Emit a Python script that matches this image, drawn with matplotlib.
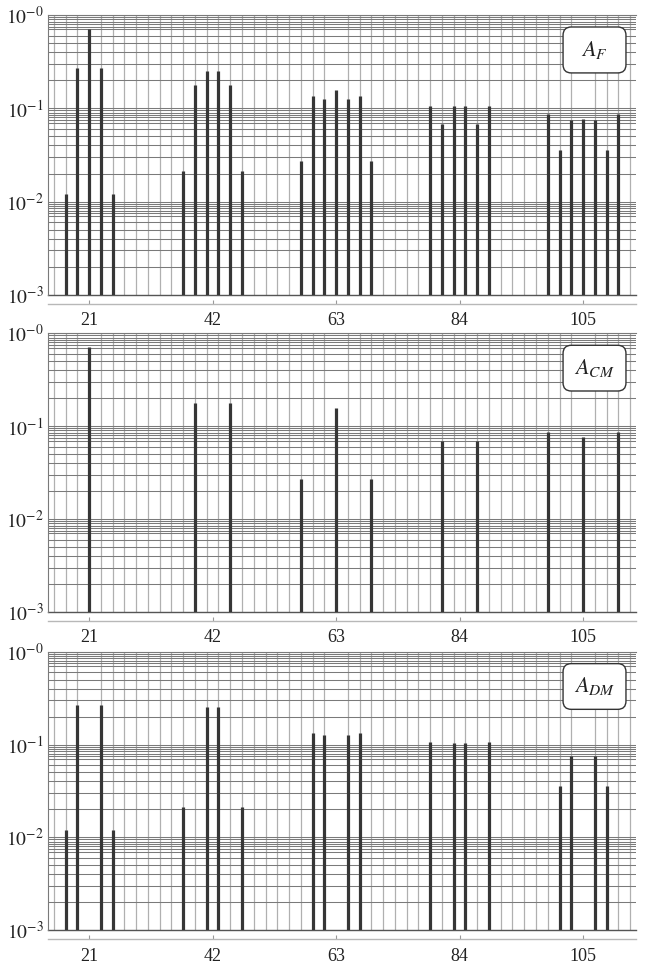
import numpy as np
import matplotlib
matplotlib.use("Agg")
import matplotlib.pyplot as plt
from matplotlib.patches import FancyBboxPatch
from matplotlib.ticker import FixedLocator, LogLocator, NullFormatter

plt.rcParams['font.family'] = ['Liberation Serif', 'DejaVu Serif']
plt.rcParams['mathtext.fontset'] = 'stix'

# rangs harmoniques et amplitudes
af_orders = [17, 19, 21, 23, 25, 37, 39, 41, 43, 45, 47, 57, 59, 61, 63, 65, 67, 69,
             79, 81, 83, 85, 87, 89, 99, 101, 103, 105, 107, 109, 111]
af_values = [0.012, 0.268, 0.70, 0.268, 0.012,
             0.0214, 0.177, 0.253, 0.253, 0.177, 0.0214,
             0.0274, 0.134, 0.127, 0.157, 0.127, 0.134, 0.0274,
             0.107, 0.0683, 0.1057, 0.1057, 0.0683, 0.107,
             0.0867, 0.0356, 0.0754, 0.0766, 0.0754, 0.0356, 0.0867]

cm_orders = [21, 39, 45, 57, 63, 69, 81, 87, 99, 105, 111]
cm_values = [0.707, 0.176, 0.176, 0.027, 0.156, 0.027, 0.0688, 0.0688, 0.0867, 0.076, 0.0867]

dm_orders = [17, 19, 23, 25, 37, 41, 43, 47, 59, 61, 65, 67, 79, 83, 85, 89, 101, 103, 107, 109]
dm_values = [0.0119, 0.269, 0.269, 0.0119, 0.0213, 0.2537, 0.2537, 0.0213,
             0.134, 0.127, 0.127, 0.134, 0.107, 0.1048, 0.1048, 0.107,
             0.0358, 0.0753, 0.0753, 0.0358]

x_ticks = [21, 42, 63, 84, 105]
y_ticks = [1e-3, 1e-2, 1e-1, 1e0]
y_ticklabels = [r'$10^{-3}$', r'$10^{-2}$', r'$10^{-1}$', r'$10^{-0}$']
panel_labels = [r'$A_F$', r'$A_{CM}$', r'$A_{DM}$']

bar_color = '#363636'
hgrid_color = '#7a7a7a'
vgrid_color = '#b0b0b0'


def tracer_panneau(ax, orders, values, label):
    """Trace un spectre harmonique en echelle log"""
    ax.set_yscale('log')
    ax.set_xlim(14, 114)
    ax.set_ylim(1e-3, 1e0)

    # grille
    ax.yaxis.set_major_locator(FixedLocator(y_ticks))
    ax.yaxis.set_minor_locator(LogLocator(base=10, subs=[2, 3, 4, 5, 6, 7, 7.5, 8, 8.5, 9, 9.5]))
    ax.yaxis.set_minor_formatter(NullFormatter())
    ax.set_yticklabels(y_ticklabels)
    ax.xaxis.set_major_locator(FixedLocator(x_ticks))
    ax.xaxis.set_minor_locator(FixedLocator(np.arange(15, 114, 2)))
    ax.grid(which='both', axis='y', color=hgrid_color, lw=0.75)
    ax.grid(which='minor', axis='x', color=vgrid_color, lw=0.9)
    ax.set_axisbelow(True)

    ax.axhline(1e-3, color='#555555', lw=1.0, clip_on=False, zorder=1)

    # raies
    ax.vlines(orders, 1e-3, values, color=bar_color, lw=2.3, zorder=3)

    # axes
    ax.spines['right'].set_visible(False)
    ax.spines['top'].set_color(hgrid_color)
    ax.spines['left'].set_color(hgrid_color)
    ax.spines['left'].set_linewidth(0.8)
    ax.spines['bottom'].set_position(('outward', 6.5))
    ax.spines['bottom'].set_color('#b8b8b8')
    ax.spines['bottom'].set_linewidth(1.0)
    ax.tick_params(axis='x', which='major', direction='in', length=3, width=0.8,
                   color='#999999', pad=6, labelsize=13, labelcolor='#222222')
    ax.tick_params(axis='x', which='minor', length=0)
    ax.tick_params(axis='y', which='both', length=0, pad=3, labelsize=14,
                   labelcolor='#222222')

    # etiquette
    boite = FancyBboxPatch((0.876, 0.793), 0.107, 0.164,
                           boxstyle='round,pad=0,rounding_size=0.014',
                           mutation_aspect=2.1, transform=ax.transAxes,
                           fc='white', ec='#333333', lw=1.0, zorder=5)
    ax.add_patch(boite)
    ax.text(0.9295, 0.875, label, transform=ax.transAxes, ha='center', va='center',
            fontsize=16, color='#222222', zorder=6)


fig = plt.figure(figsize=(6.51, 9.65), dpi=100)
positions = [[0.0737, 0.6943, 0.9032, 0.2902],
             [0.0737, 0.3658, 0.9032, 0.2888],
             [0.0737, 0.0360, 0.9032, 0.2887]]
donnees = [(af_orders, af_values), (cm_orders, cm_values), (dm_orders, dm_values)]

for pos, (o, v), lab in zip(positions, donnees, panel_labels):
    ax = fig.add_axes(pos)
    tracer_panneau(ax, o, v, lab)

fig.savefig('out.png', dpi=100)
